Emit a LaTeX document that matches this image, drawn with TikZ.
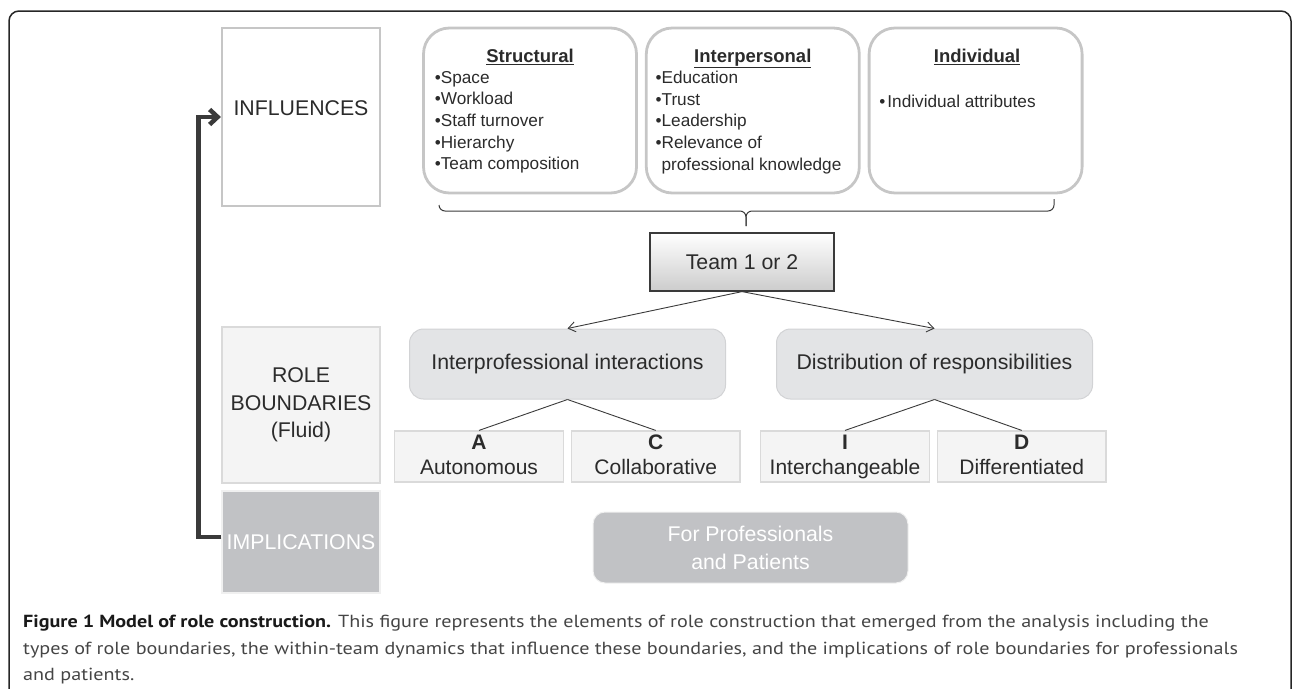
\documentclass[tikz,border=0pt]{standalone}
\usepackage{fontspec}
\setmainfont{Liberation Sans}
\newfontfamily\capfont[FakeStretch=1.15]{PT Sans}
\usetikzlibrary{positioning,arrows.meta,calc}
\definecolor{framegray}{HTML}{C6C6C6}
\definecolor{darkline}{HTML}{3A3A3A}
\definecolor{textgray}{HTML}{2B2B2B}
\definecolor{rolefill}{HTML}{F4F4F4}
\definecolor{roleline}{HTML}{DADADA}
\definecolor{implfill}{HTML}{C1C2C5}
\definecolor{dimfill}{HTML}{E3E4E6}
\definecolor{dimline}{HTML}{D2D3D5}
\definecolor{capgray}{HTML}{454545}
\newcommand{\bigtxt}{\fontsize{21.3pt}{27.5pt}\selectfont}
\newcommand{\listtxt}{\fontsize{17.2pt}{21.6pt}\selectfont}
\newcommand{\headtxt}{\fontsize{18.5pt}{22pt}\selectfont\bfseries}
\newcommand{\typelbl}[2]{\textbf{#1}\\#2\vphantom{g}}

\begin{document}
\begin{tikzpicture}[x=1pt, y=-1pt, text=textgray]
	\tikzstyle{sidebox} = [rectangle, draw=framegray, line width=2.2pt, fill=white, minimum width=158pt, inner sep=0pt, font=\bigtxt]
	\tikzstyle{factorbox} = [rectangle, rounded corners=26pt, draw=framegray, line width=2.8pt, minimum width=213pt, minimum height=165pt]
	\tikzstyle{headtext} = [inner sep=0pt, font=\headtxt]
	\tikzstyle{listtext} = [inner sep=0pt, align=left, font=\listtxt]
	\tikzstyle{teambox} = [rectangle, draw=darkline, line width=1.2pt, top color=white, bottom color=black!20, minimum width=184pt, minimum height=58pt, font=\bigtxt]
	\tikzstyle{dimbox} = [rectangle, rounded corners=14pt, draw=dimline, line width=1pt, fill=dimfill, minimum width=316pt, minimum height=70pt, font=\bigtxt]
	\tikzstyle{typebox} = [rectangle, draw=roleline, line width=1.2pt, fill=rolefill, minimum width=168.5pt, minimum height=51pt, inner sep=0pt, align=center, font=\fontsize{21pt}{25pt}\selectfont]
	\tikzstyle{thinarrow} = [draw=darkline, line width=0.9pt, -{Straight Barb[length=7pt, width=10pt]}]
	\tikzstyle{thinline} = [draw=darkline, line width=0.9pt]
	\tikzstyle{bigarrow} = [draw=darkline, line width=4.5pt, -{Straight Barb[length=8pt, width=15pt]}]
	\useasboundingbox (0,0) rectangle (1292,688);
	% outer frame
	\draw[black!85, line width=1.5pt, rounded corners=10pt] (9,700) -- (9,11) -- (1291,11) -- (1291,700);

	% left column
	\node[sidebox, minimum height=178pt] (Infl) at (301,117) {};
	\node[inner sep=0pt, font=\bigtxt, yshift=9pt] (InflTxt) at (Infl.center) {INFLUENCES};
	\node[sidebox, fill=rolefill, draw=roleline, line width=1.2pt, minimum height=156pt, align=center] (Role) at (301,405) {ROLE\\BOUNDARIES\\(Fluid)};
	\node[sidebox, fill=implfill, draw=black!6, line width=1.2pt, minimum height=102pt, text=white] (Impl) at (301,542) {IMPLICATIONS};
	\draw[bigarrow] ([yshift=5pt]Impl.west) -- ++(-23,0) |- (Infl.west);

	% influences
	\node[factorbox] (Struct) at (530,110.5) {};
	\node[factorbox, right=7pt of Struct] (Interp) {};
	\node[factorbox, right=7pt of Interp] (Indiv) {};
	\node[headtext, below=22pt of Struct.north] (StructHead) {\underline{Structural}};
	\node[headtext, below=22pt of Interp.north] (InterpHead) {\underline{Interpersonal}};
	\node[headtext, below=22pt of Indiv.north, xshift=1.5pt] (IndivHead) {\underline{Individual}};
	\node[listtext, below right=44.5pt and 12.5pt of Struct.north west] (StructList) {\textbullet Space\\\textbullet Workload\\\textbullet Staff turnover\\\textbullet Hierarchy\\\textbullet Team composition};
	\node[listtext, below right=44.5pt and 10.5pt of Interp.north west] (InterpList) {\textbullet Education\\\textbullet Trust\\\textbullet Leadership\\\textbullet Relevance of\\\phantom{\textbullet}professional knowledge};
	\node[listtext, below right=68pt and 11.5pt of Indiv.north west] (IndivList) {\textbullet\kern2pt Individual attributes};

	\coordinate (BraceL) at (439,205);
	\coordinate (BraceR) at (1054,199);
	\coordinate (BraceM) at (746,226);
	\draw[darkline, line width=1pt, rounded corners=6pt] (BraceL) |- (BraceM |- 0,211) -- (BraceM);
	\draw[darkline, line width=1pt, rounded corners=6pt] (BraceR) |- (BraceM |- 0,211) -- (BraceM);

	% team and role boundaries
	\node[teambox] (Team) at (742,262) {Team 1 or 2};
	\node[dimbox] (IPI) at (567.5,364) {Interprofessional interactions};
	\node[dimbox, right=50pt of IPI] (DOR) {Distribution of responsibilities};
	\draw[thinarrow] (Team.south) -- (IPI.north);
	\draw[thinarrow] (Team.south) -- (DOR.north);

	\node[typebox] (BoxA) at (479,456.5) {\typelbl{A}{Autonomous}};
	\node[typebox, right=7pt of BoxA] (BoxC) {\typelbl{C}{Collaborative}};
	\node[typebox] (BoxI) at (845,456.5) {\typelbl{I}{Interchangeable}};
	\node[typebox, right=7pt of BoxI] (BoxD) {\typelbl{D}{Differentiated}};
	\draw[thinline] (IPI.south) -- (BoxA.north);
	\draw[thinline] (IPI.south) -- (BoxC.north);
	\draw[thinline] (DOR.south) -- (BoxI.north);
	\draw[thinline] (DOR.south) -- (BoxD.north);

	\node[rectangle, rounded corners=12pt, fill=implfill, draw=black!6, line width=1pt, text=white, minimum width=315pt, minimum height=71pt, align=center, font=\fontsize{21.3pt}{28pt}\selectfont] (ForPP) at (750.5,547.5) {For Professionals\\and Patients};

	% caption
	\node[anchor=north west, inner sep=0pt, align=left, text=capgray, font=\capfont\fontsize{17.5pt}{26.5pt}\selectfont] (Caption) at (23,615) {\textbf{\color{black!90}Figure 1 Model of role construction.} This figure represents the elements of role construction that emerged from the analysis including the\\types of role boundaries, the within-team dynamics that influence these boundaries, and the implications of role boundaries for professionals\\and patients.};
\end{tikzpicture}
\end{document}
